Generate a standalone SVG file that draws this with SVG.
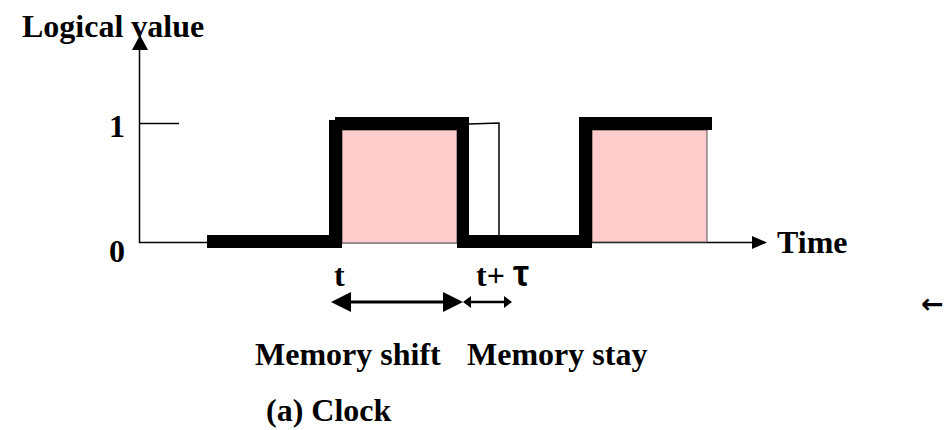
<svg xmlns="http://www.w3.org/2000/svg" width="945" height="430" viewBox="0 0 945 430">
<style>
.lbl{font-family:"Liberation Serif","Times New Roman",serif;font-weight:bold;font-size:32px;fill:#000}
.sym{font-family:"Liberation Sans",Arial,sans-serif;font-weight:bold;font-size:36px;fill:#000}
.arr{font-family:"DejaVu Sans","Liberation Sans",sans-serif;font-weight:bold;font-size:27px;fill:#000}
.thin{stroke:#000;stroke-width:1.5;fill:none}
.thick{fill:#000}
.pink{fill:#FFCCCC;stroke:#555;stroke-width:1}
</style>
<rect width="945" height="430" fill="#fff"/>
<g id="axes">
<line class="thin" x1="139.5" y1="243" x2="139.5" y2="48"/>
<polygon points="140,35 132,50 148,50" fill="#000"/>
<line class="thin" x1="140" y1="123.5" x2="179" y2="123.5"/>
<line class="thin" x1="139" y1="242.5" x2="754" y2="242.5"/>
<polygon points="767,242.5 752,236 752,249" fill="#000"/>
</g>
<g id="signal">
<rect class="pink" x="342" y="130" width="115" height="113"/>
<rect class="pink" x="592" y="130" width="115" height="112"/>
<rect class="thick" x="207" y="235" width="131" height="13"/>
<rect class="thick" x="329" y="120" width="13" height="128"/>
<rect class="thick" x="335" y="117" width="131" height="13"/>
<rect class="thick" x="457" y="117" width="12" height="131"/>
<rect class="thick" x="460" y="235" width="132" height="13"/>
<polyline class="thin" points="469,124 499,123 499,235"/>
<rect class="thick" x="579" y="117" width="13" height="131"/>
<rect class="thick" x="579" y="117" width="133" height="13"/>
</g>
<g id="connectors">
<line x1="345" y1="302" x2="450" y2="302" stroke="#000" stroke-width="3"/>
<polygon points="331,302 351,292 351,312" fill="#000"/>
<polygon points="463,302 443,292 443,312" fill="#000"/>
<line x1="468" y1="302" x2="507" y2="302" stroke="#000" stroke-width="2.5"/>
<polygon points="463,302 471,296 471,308" fill="#000"/>
<polygon points="512,302 504,296 504,308" fill="#000"/>
</g>
<g id="labels">
<text class="lbl" x="22" y="37">Logical value</text>
<text class="lbl" x="109" y="137">1</text>
<text class="lbl" x="109" y="262">0</text>
<text class="lbl" x="777" y="253">Time</text>
<text class="lbl" x="334" y="286">t</text>
<text class="lbl" x="476" y="286">t+ <tspan class="sym">τ</tspan></text>
<text class="lbl" x="255" y="365">Memory shift</text>
<text class="lbl" x="467" y="365">Memory stay</text>
<text class="lbl" x="266" y="421">(a) Clock</text>
<text class="arr" x="921" y="313">←</text>
</g>
</svg>
